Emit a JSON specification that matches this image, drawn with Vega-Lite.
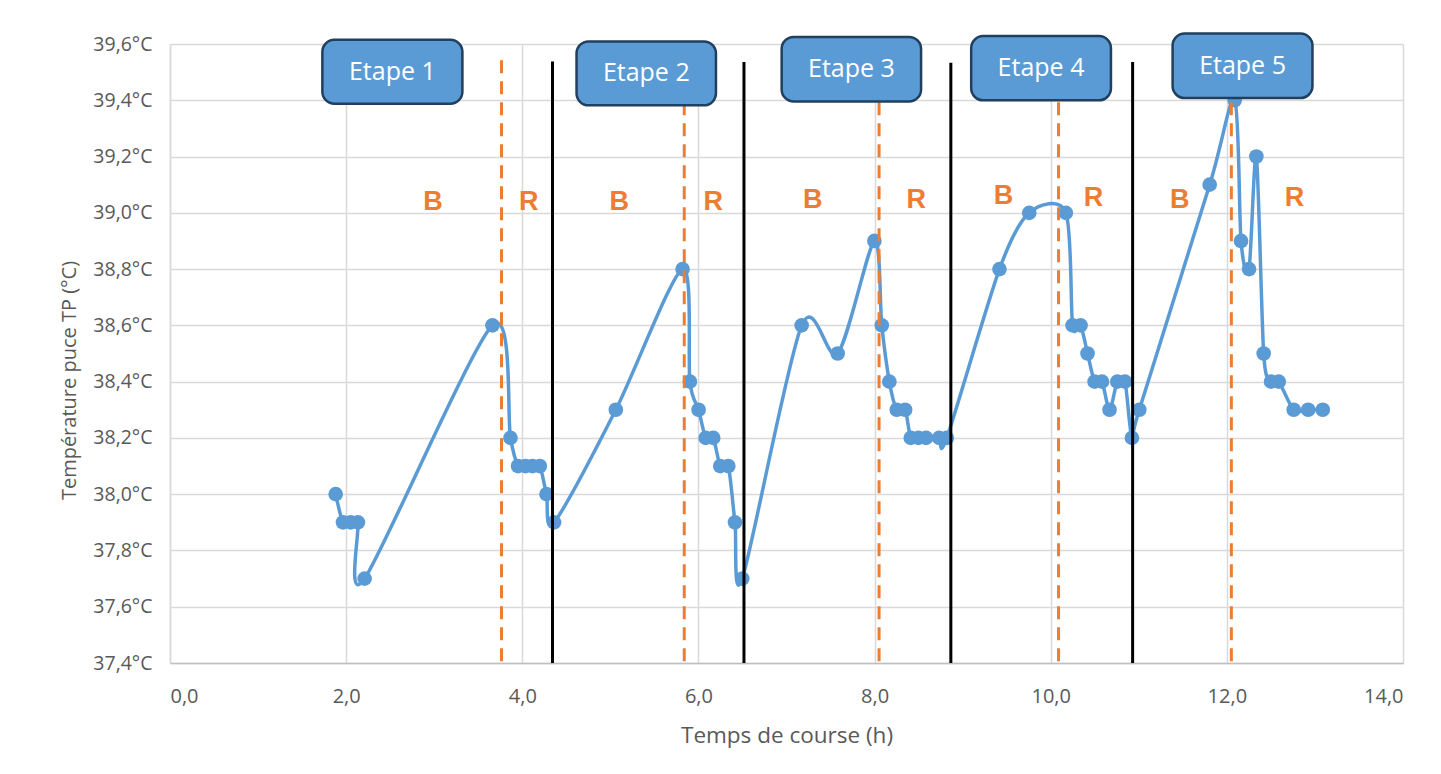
{
  "$schema": "https://vega.github.io/schema/vega-lite/v6.json",
  "width": 1233,
  "height": 619,
  "autosize": {"type": "none"},
  "padding": {"left": 170, "top": 44, "right": 38, "bottom": 111},
  "background": "white",
  "config": {
    "view": {"stroke": null},
    "axis": {
      "labelFont": "Open Sans",
      "titleFont": "Open Sans",
      "labelColor": "#595959",
      "titleColor": "#595959",
      "titleFontWeight": "normal",
      "gridColor": "#D9D9D9",
      "gridWidth": 1.5,
      "ticks": false
    }
  },
  "datasets": {
    "temp": [
      {"h": 1.881, "t": 38.0}, {"h": 1.964, "t": 37.9}, {"h": 2.051, "t": 37.9}, {"h": 2.134, "t": 37.9},
      {"h": 2.210, "t": 37.7}, {"h": 3.661, "t": 38.6}, {"h": 3.866, "t": 38.2}, {"h": 3.952, "t": 38.1},
      {"h": 4.036, "t": 38.1}, {"h": 4.116, "t": 38.1}, {"h": 4.199, "t": 38.1}, {"h": 4.275, "t": 38.0},
      {"h": 4.361, "t": 37.9}, {"h": 5.062, "t": 38.3}, {"h": 5.820, "t": 38.8}, {"h": 5.903, "t": 38.4},
      {"h": 6.002, "t": 38.3}, {"h": 6.082, "t": 38.2}, {"h": 6.168, "t": 38.2}, {"h": 6.248, "t": 38.1},
      {"h": 6.339, "t": 38.1}, {"h": 6.415, "t": 37.9}, {"h": 6.498, "t": 37.7}, {"h": 7.172, "t": 38.6},
      {"h": 7.581, "t": 38.5}, {"h": 7.998, "t": 38.9}, {"h": 8.082, "t": 38.6}, {"h": 8.168, "t": 38.4},
      {"h": 8.252, "t": 38.3}, {"h": 8.347, "t": 38.3}, {"h": 8.411, "t": 38.2}, {"h": 8.498, "t": 38.2},
      {"h": 8.585, "t": 38.2}, {"h": 8.733, "t": 38.2}, {"h": 8.820, "t": 38.2}, {"h": 9.418, "t": 38.8},
      {"h": 9.756, "t": 39.0}, {"h": 10.172, "t": 39.0}, {"h": 10.248, "t": 38.6}, {"h": 10.339, "t": 38.6},
      {"h": 10.418, "t": 38.5}, {"h": 10.498, "t": 38.4}, {"h": 10.582, "t": 38.4}, {"h": 10.668, "t": 38.3},
      {"h": 10.756, "t": 38.4}, {"h": 10.843, "t": 38.4}, {"h": 10.922, "t": 38.2}, {"h": 11.006, "t": 38.3},
      {"h": 11.805, "t": 39.1}, {"h": 12.089, "t": 39.4}, {"h": 12.161, "t": 38.9}, {"h": 12.252, "t": 38.8},
      {"h": 12.335, "t": 39.2}, {"h": 12.418, "t": 38.5}, {"h": 12.502, "t": 38.4}, {"h": 12.589, "t": 38.4},
      {"h": 12.759, "t": 38.3}, {"h": 12.923, "t": 38.3}, {"h": 13.089, "t": 38.3}
    ],
    "blackRules": [
      {"h": 4.343, "y1": 37.4, "y2": 39.538}, {"h": 6.517, "y1": 37.4, "y2": 39.536},
      {"h": 8.866, "y1": 37.4, "y2": 39.533}, {"h": 10.93, "y1": 37.4, "y2": 39.536}
    ],
    "orangeRules": [
      {"h": 3.764, "y1": 37.4, "y2": 39.542}, {"h": 5.839, "y1": 37.4, "y2": 39.542},
      {"h": 8.051, "y1": 37.4, "y2": 39.542}, {"h": 10.089, "y1": 37.4, "y2": 39.542},
      {"h": 12.051, "y1": 37.4, "y2": 39.542}
    ],
    "phases": [
      {"h": 2.987, "t": 39.04, "label": "B"}, {"h": 4.074, "t": 39.04, "label": "R"},
      {"h": 5.100, "t": 39.04, "label": "B"}, {"h": 6.168, "t": 39.04, "label": "R"},
      {"h": 7.297, "t": 39.047, "label": "B"}, {"h": 8.472, "t": 39.047, "label": "R"},
      {"h": 9.463, "t": 39.059, "label": "B"}, {"h": 10.486, "t": 39.053, "label": "R"},
      {"h": 11.464, "t": 39.044, "label": "B"}, {"h": 12.767, "t": 39.053, "label": "R"}
    ],
    "boxes": [
      {"x1": 1.730, "x2": 3.320, "y1": 39.388, "y2": 39.615, "hc": 2.525, "tc": 39.502, "label": "Etape 1"},
      {"x1": 4.616, "x2": 6.199, "y1": 39.382, "y2": 39.609, "hc": 5.408, "tc": 39.496, "label": "Etape 2"},
      {"x1": 6.945, "x2": 8.528, "y1": 39.396, "y2": 39.625, "hc": 7.737, "tc": 39.510, "label": "Etape 3"},
      {"x1": 9.097, "x2": 10.684, "y1": 39.400, "y2": 39.628, "hc": 9.890, "tc": 39.514, "label": "Etape 4"},
      {"x1": 11.384, "x2": 12.972, "y1": 39.408, "y2": 39.637, "hc": 12.178, "tc": 39.523, "label": "Etape 5"}
    ]
  },
  "layer": [
    {
      "data": {"name": "temp"},
      "mark": {"type": "line", "interpolate": "cardinal", "tension": 0.15, "color": "#5B9BD5", "strokeWidth": 3.5},
      "encoding": {
        "x": {
          "field": "h", "type": "quantitative",
          "scale": {"domain": [0, 14], "nice": false, "zero": false},
          "axis": {
            "title": "Temps de course (h)",
            "values": [0, 2, 4, 6, 8, 10, 12, 14],
            "labelExpr": "replace(format(datum.value, '.1f'), '.', ',')",
            "labelFontSize": 20,
            "labelPadding": 23,
            "titleFontSize": 22.5,
            "titlePadding": 18,
            "domainColor": "#BFBFBF",
            "domainWidth": 1.5
          }
        },
        "y": {
          "field": "t", "type": "quantitative",
          "scale": {"domain": [37.4, 39.6], "nice": false, "zero": false},
          "axis": {
            "title": "Température puce TP (°C)",
            "values": [37.4, 37.6, 37.8, 38.0, 38.2, 38.4, 38.6, 38.8, 39.0, 39.2, 39.4, 39.6],
            "labelExpr": "replace(format(datum.value, '.1f'), '.', ',') + '°C'",
            "labelFontSize": 19.5,
            "labelPadding": 18,
            "titleFontSize": 20,
            "titlePadding": 13,
            "titleY": 336,
            "domainColor": "#D9D9D9",
            "domainWidth": 1.5
          }
        }
      }
    },
    {
      "data": {"name": "temp"},
      "mark": {"type": "point", "filled": true, "shape": "circle", "size": 215, "color": "#5B9BD5", "opacity": 1},
      "encoding": {
        "x": {"field": "h", "type": "quantitative"},
        "y": {"field": "t", "type": "quantitative"}
      }
    },
    {
      "data": {"name": "blackRules"},
      "mark": {"type": "rule", "color": "#000000", "strokeWidth": 3},
      "encoding": {
        "x": {"field": "h", "type": "quantitative"},
        "y": {"field": "y1", "type": "quantitative"},
        "y2": {"field": "y2"}
      }
    },
    {
      "data": {"name": "orangeRules"},
      "mark": {"type": "rule", "color": "#ED7D31", "strokeWidth": 3, "strokeDash": [13, 8]},
      "encoding": {
        "x": {"field": "h", "type": "quantitative"},
        "y": {"field": "y2", "type": "quantitative"},
        "y2": {"field": "y1"}
      }
    },
    {
      "data": {"name": "phases"},
      "mark": {"type": "text", "font": "Liberation Sans", "fontWeight": "bold", "fontSize": 27, "color": "#ED7D31", "align": "center", "baseline": "middle"},
      "encoding": {
        "x": {"field": "h", "type": "quantitative"},
        "y": {"field": "t", "type": "quantitative"},
        "text": {"field": "label"}
      }
    },
    {
      "data": {"name": "boxes"},
      "mark": {"type": "rect", "fill": "#5B9BD5", "stroke": "#213F5E", "strokeWidth": 2.5, "cornerRadius": 12},
      "encoding": {
        "x": {"field": "x1", "type": "quantitative"},
        "x2": {"field": "x2"},
        "y": {"field": "y1", "type": "quantitative"},
        "y2": {"field": "y2"}
      }
    },
    {
      "data": {"name": "boxes"},
      "mark": {"type": "text", "font": "Open Sans", "fontSize": 25, "color": "#FFFFFF", "align": "center", "baseline": "middle"},
      "encoding": {
        "x": {"field": "hc", "type": "quantitative"},
        "y": {"field": "tc", "type": "quantitative"},
        "text": {"field": "label"}
      }
    }
  ]
}
